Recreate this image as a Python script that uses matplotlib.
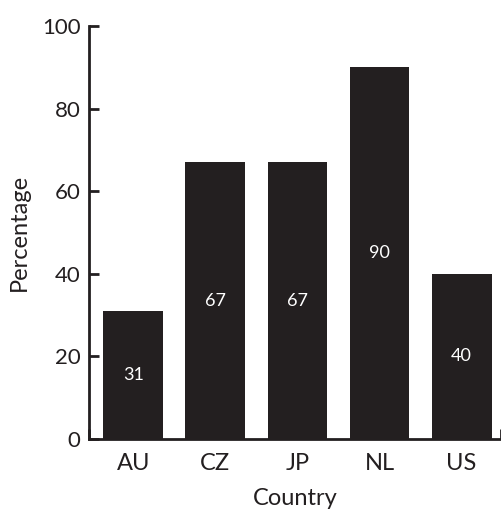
import matplotlib.pyplot as plt

plt.rcParams['font.family'] = ['Lato', 'DejaVu Sans']

countries = ['AU', 'CZ', 'JP', 'NL', 'US']
percentage = [31, 67, 67, 90, 40]

dark = '#231f20'

fig = plt.figure(figsize=(5.02, 5.13), dpi=100)
ax = fig.add_axes([89 / 502, 74 / 513, 412 / 502, 413 / 513])

x = list(range(len(countries)))
bars = ax.bar(x, percentage, width=0.73, color=dark)

# labels inside bars, at half height
for xi, v in zip(x, percentage):
    ax.text(xi, v / 2, str(v), color='white', ha='center', va='center', fontsize=13)

ax.set_xlim(-0.54, 4.48)
ax.set_ylim(0, 100)
ax.set_yticks([0, 20, 40, 60, 80, 100])
ax.set_xticks(x)
ax.set_xticklabels(countries)

ax.spines['top'].set_visible(False)
ax.spines['right'].set_visible(False)
for s in ['left', 'bottom']:
    ax.spines[s].set_linewidth(2)
    ax.spines[s].set_color(dark)

ax.tick_params(axis='y', direction='in', length=7, width=2, color=dark,
               labelsize=16, pad=6, labelcolor=dark)
ax.tick_params(axis='x', length=0, labelsize=17, pad=10, labelcolor=dark)

# small end ticks on the x axis
ax.set_xticks([-0.54, 4.48], minor=True)
ax.tick_params(axis='x', which='minor', direction='in', length=7, width=2, color=dark)

ax.set_xlabel('Country', fontsize=17, color=dark, labelpad=10)
ax.set_ylabel('Percentage', fontsize=17, color=dark, labelpad=9)

plt.savefig('out.png', dpi=100)
